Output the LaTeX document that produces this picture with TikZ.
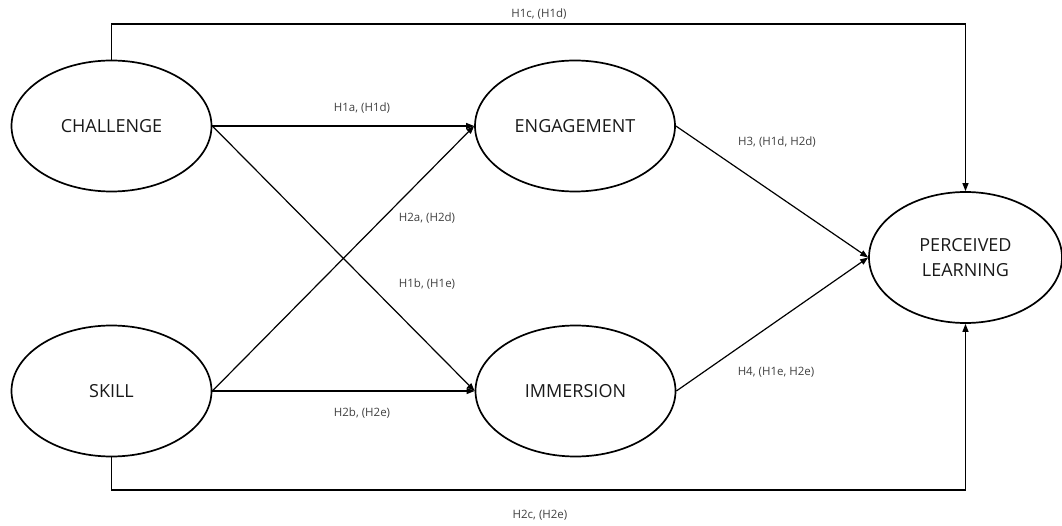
\documentclass[tikz,border=0pt]{standalone}
\usepackage{fontspec}
\setmainfont{Open Sans}
\usetikzlibrary{shapes.geometric,arrows.meta}
\begin{document}
\begin{tikzpicture}[x=1pt,y=-1pt,
  latent/.style={draw,ellipse,line width=1.7pt,minimum width=200pt,minimum height=131pt,inner sep=0pt,align=center,font=\fontsize{18}{25}\selectfont,text=black!90},
  lab/.style={font=\fontsize{11.5}{14}\selectfont,text=black!75,inner sep=0pt},
  conn/.style={line width=1.2pt,-{Triangle[length=8pt,width=6pt]}}]
\useasboundingbox (0,0) rectangle (1062,526);
\node[latent] (ch) at (111.5,126) {CHALLENGE};
\node[latent] (sk) at (111.5,391) {SKILL};
\node[latent] (en) at (575,126) {ENGAGEMENT};
\node[latent] (im) at (575.5,391) {IMMERSION};
\node[latent,minimum width=193pt] (pl) at (965.5,257.5) {PERCEIVED\\LEARNING};
\coordinate (ct) at (111.5,24);
\coordinate (pt) at (965.5,24);
\coordinate (sb) at (111.5,490);
\coordinate (pb) at (965.5,490);
\draw[conn] (ch.north) -- (ct) -- (pt) -- (pl.north);
\draw[conn] (sk.south) -- (sb) -- (pb) -- (pl.south);
\draw[conn] (ch.east) -- (en.west);
\draw[conn] (ch.east) -- (im.west);
\draw[conn] (sk.east) -- (en.west);
\draw[conn] (sk.east) -- (im.west);
\draw[conn] (en.east) -- (pl.west);
\draw[conn] (im.east) -- (pl.west);
\node[lab] (l1c) at (539,14) {H1c, (H1d)};
\node[lab] (l1a) at (362,108) {H1a, (H1d)};
\node[lab] (l2a) at (427,218) {H2a, (H2d)};
\node[lab] (l1b) at (427,284) {H1b, (H1e)};
\node[lab] (l2b) at (362,413) {H2b, (H2e)};
\node[lab] (l2c) at (540,515) {H2c, (H2e)};
\node[lab] (l3) at (777,142) {H3, (H1d, H2d)};
\node[lab] (l4) at (776,372) {H4, (H1e, H2e)};
\end{tikzpicture}
\end{document}
